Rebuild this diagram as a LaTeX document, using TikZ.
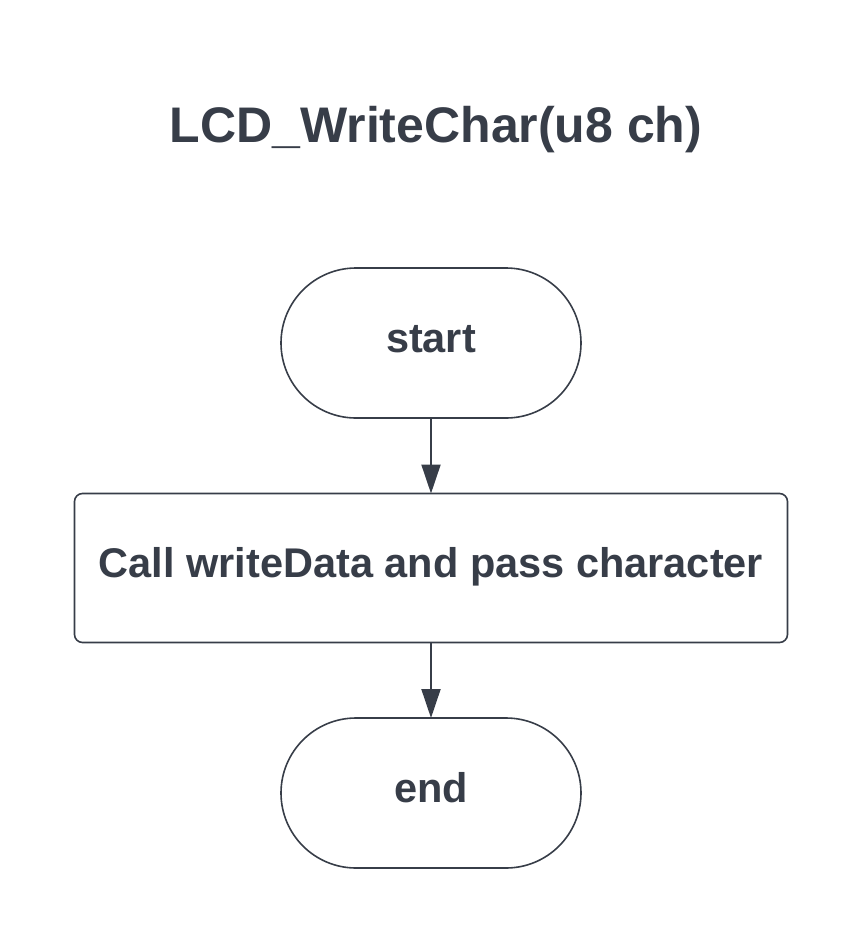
\documentclass[tikz,border=0pt]{standalone}
\usepackage{fontspec}
\setmainfont{Liberation Sans}
\usetikzlibrary{positioning,arrows.meta}
\definecolor{ink}{RGB}{55,61,72}

\begin{document}
\begin{tikzpicture}
[x=1pt,y=-1pt,
 every node/.style={draw=ink,line width=1.6pt,inner sep=0pt,outer sep=0pt,text=ink,font=\fontsize{41.5}{50}\selectfont\bfseries},
 term/.style={rectangle,rounded corners=75pt,minimum width=300pt,minimum height=150pt,text height=25pt,text depth=7pt},
 proc/.style={rectangle,rounded corners=8pt,minimum width=713pt,minimum height=149pt,text height=25pt,text depth=7pt},
 title/.style={draw=none,font=\fontsize{50}{60}\selectfont\bfseries},
 flow/.style={-{Triangle[length=29pt,width=19pt]},color=ink,line width=2pt}]
\useasboundingbox (0,0) rectangle (863,943);
\node[term]  (start) at (431,343)                                   {start};
\node[proc]  (call)  [on grid,below=225pt of start]                 {Call writeData and pass character};
\node[term]  (stop)  [on grid,below=225pt of call]                  {end};
\node[title] (head)  [on grid,above right=213pt and 5pt of start]   {LCD\_WriteChar(u8 ch)};
\path[flow] (start) edge (call);
\path[flow] (call)  edge (stop);
\end{tikzpicture}
\end{document}
